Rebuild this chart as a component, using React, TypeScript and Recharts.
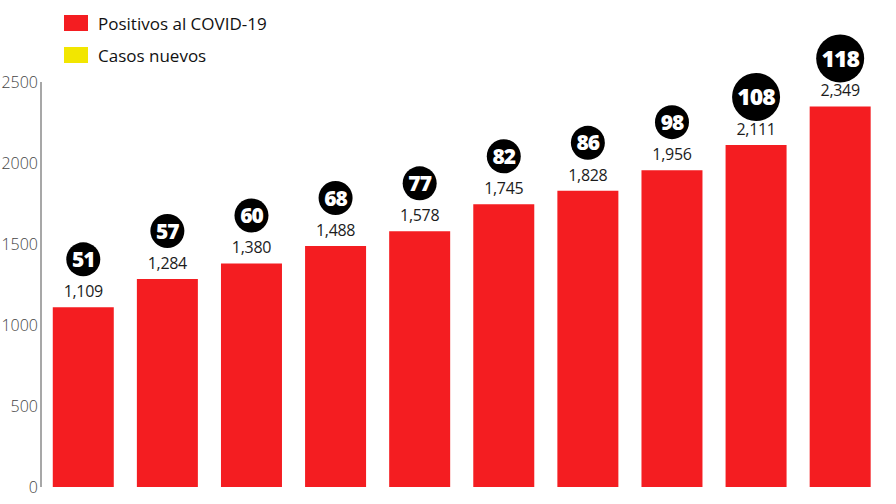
import { BarChart, Bar, XAxis, YAxis, LabelList } from 'recharts';

const dias = ['1', '2', '3', '4', '5', '6', '7', '8', '9', '10'];
const positivos = [1109, 1284, 1380, 1488, 1578, 1745, 1828, 1956, 2111, 2349];
const nuevos = [51, 57, 60, 68, 77, 82, 86, 98, 108, 118];
const yTicks = [0, 500, 1000, 1500, 2000, 2500];

const RED = '#f41d21';
const YELLOW = '#f2e600';
const FONT = '"Open Sans", sans-serif';

const data = dias.map((d, i) => ({ dia: d, positivos: positivos[i], nuevos: nuevos[i] }));

// value on top of each bar, with the new-cases bubble above it
function BarLabel(props: any) {
  const { x, y, width, value, index } = props;
  const cx = x + width / 2;
  const n = nuevos[index];
  const big = n >= 100;
  const r = big ? 24 : 17;
  const cy = y - 48;
  return (
    <g>
      <text
        x={cx}
        y={y - 10}
        textAnchor="middle"
        fontFamily={FONT}
        fontSize={16}
        fontWeight={500}
        letterSpacing={-0.3}
        fill="#1c1c1c"
      >
        {value.toLocaleString('en-US')}
      </text>
      <circle cx={cx} cy={cy} r={r} fill="#000" />
      <text
        x={cx}
        y={cy}
        dy="0.36em"
        textAnchor="middle"
        fontFamily={FONT}
        fontSize={big ? 23 : 21}
        fontWeight={800}
        letterSpacing={-1}
        fill="#fff"
      >
        {n}
      </text>
    </g>
  );
}

function LegendBox() {
  const items = [
    { color: RED, label: 'Positivos al COVID-19' },
    { color: YELLOW, label: 'Casos nuevos' },
  ];
  return (
    <div style={{ position: 'absolute', left: 64, top: 7, fontFamily: FONT, fontSize: 17, color: '#111' }}>
      {items.map((it) => (
        <div key={it.label} style={{ display: 'flex', alignItems: 'center', height: 32 }}>
          <span style={{ width: 24, height: 16, background: it.color, marginRight: 10 }} />
          <span>{it.label}</span>
        </div>
      ))}
    </div>
  );
}

export default function App() {
  return (
    <div style={{ position: 'absolute', left: 0, top: 0, width: 896, height: 504, background: '#fff' }}>
      <BarChart
        width={896}
        height={504}
        data={data}
        margin={{ top: 82, right: 14, left: 0, bottom: 17 }}
        barCategoryGap="14%"
      >
        <XAxis dataKey="dia" hide />
        <YAxis
          domain={[0, 2500]}
          ticks={yTicks}
          width={41}
          axisLine={{ stroke: '#8a8a8a', strokeWidth: 1.5 }}
          tickLine={false}
          tickSize={0}
          tickMargin={3}
          tick={{ fill: '#444', fontSize: 16, fontFamily: FONT, fontWeight: 300 }}
        />
        <Bar dataKey="positivos" fill={RED} isAnimationActive={false}>
          <LabelList dataKey="positivos" content={<BarLabel />} />
        </Bar>
      </BarChart>
      <LegendBox />
    </div>
  );
}
